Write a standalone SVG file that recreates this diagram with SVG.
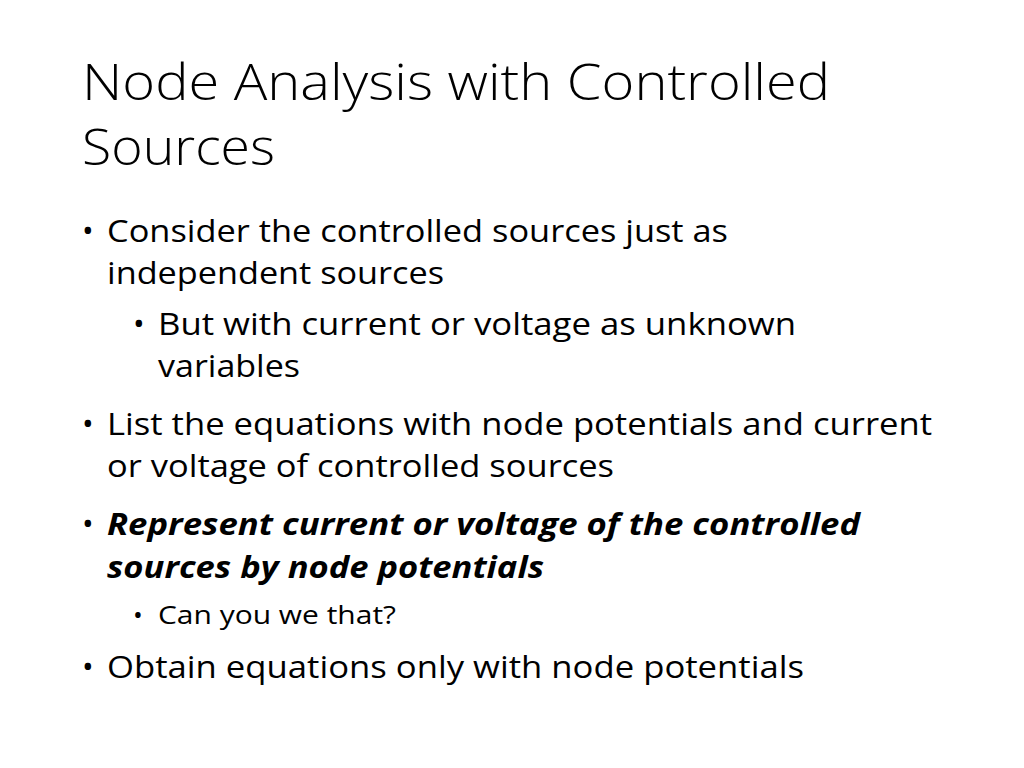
<svg xmlns="http://www.w3.org/2000/svg" width="1024" height="768" viewBox="0 0 1024 768">
<style>
text{font-family:"Open Sans","Noto Sans",sans-serif;fill:#000}
.t{font-size:50px;font-weight:300}
.b{font-size:31px}
.s{font-size:26px}
.bi{font-weight:bold;font-style:italic}
</style>
<rect width="1024" height="768" fill="#fff"/>
<text class="t" x="82" y="100" textLength="748" lengthAdjust="spacingAndGlyphs">Node Analysis with Controlled</text>
<text class="t" x="82" y="165" textLength="193" lengthAdjust="spacingAndGlyphs">Sources</text>
<g class="b">
<text x="82" y="242">•</text>
<text x="107" y="242" textLength="621" lengthAdjust="spacingAndGlyphs">Consider the controlled sources just as</text>
<text x="107" y="284" textLength="337" lengthAdjust="spacingAndGlyphs">independent sources</text>
<text x="133" y="335">•</text>
<text x="158" y="335" textLength="638" lengthAdjust="spacingAndGlyphs">But with current or voltage as unknown</text>
<text x="158" y="377" textLength="142" lengthAdjust="spacingAndGlyphs">variables</text>
<text x="82" y="435">•</text>
<text x="107" y="435" textLength="825" lengthAdjust="spacingAndGlyphs">List the equations with node potentials and current</text>
<text x="107" y="477" textLength="507" lengthAdjust="spacingAndGlyphs">or voltage of controlled sources</text>
<text x="82" y="535">•</text>
<text class="bi" x="107" y="535" textLength="753" lengthAdjust="spacingAndGlyphs">Represent current or voltage of the controlled</text>
<text class="bi" x="107" y="578" textLength="437" lengthAdjust="spacingAndGlyphs">sources by node potentials</text>
<text x="82" y="678">•</text>
<text x="107" y="678" textLength="697" lengthAdjust="spacingAndGlyphs">Obtain equations only with node potentials</text>
</g>
<text class="s" x="133" y="624">•</text>
<text class="s" x="158" y="624" textLength="238" lengthAdjust="spacingAndGlyphs">Can you we that?</text>
</svg>
